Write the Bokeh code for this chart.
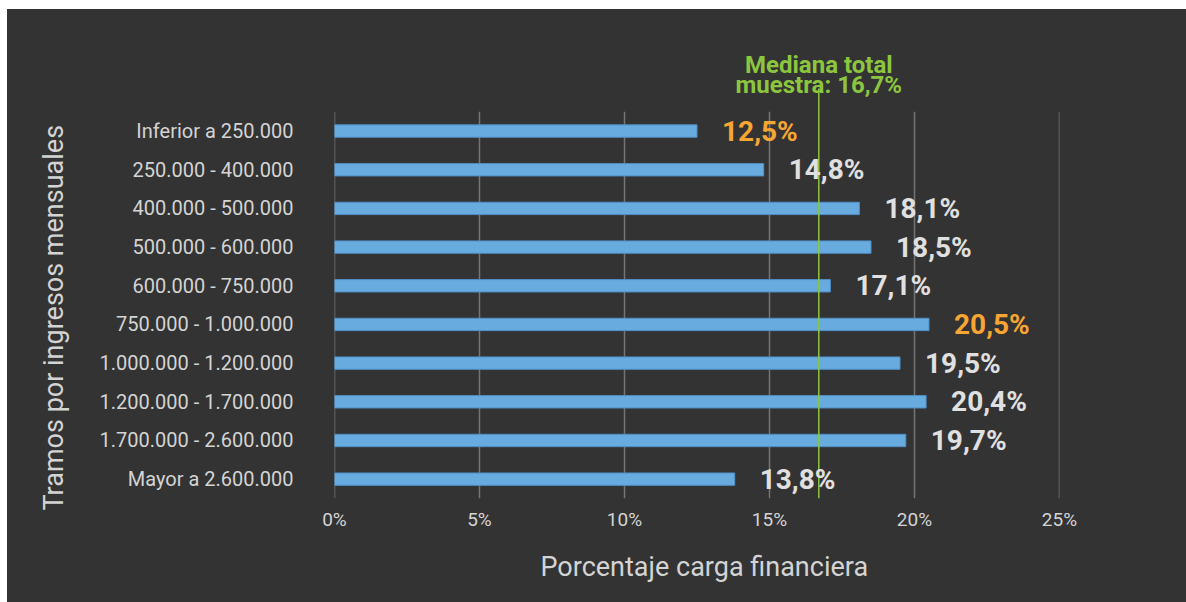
from bokeh.plotting import figure
from bokeh.models import ColumnDataSource, FixedTicker, PrintfTickFormatter, Title
from bokeh.core.properties import value
from bokeh.embed import file_html
from bokeh.resources import INLINE

categories = ["Inferior a 250.000", "250.000 - 400.000", "400.000 - 500.000",
              "500.000 - 600.000", "600.000 - 750.000", "750.000 - 1.000.000",
              "1.000.000 - 1.200.000", "1.200.000 - 1.700.000",
              "1.700.000 - 2.600.000", "Mayor a 2.600.000"]
values = [12.5, 14.8, 18.1, 18.5, 17.1, 20.5, 19.5, 20.4, 19.7, 13.8]
highlight = [True, False, False, False, False, True, False, False, False, False]
x_ticks = [0, 5, 10, 15, 20, 25]
median_value = 16.7

BG = "#333333"
BAR = "#68abdf"
BAR_LINE = "#4f8fc6"
GRID = "#747474"
TXT = "#d4d4d4"
VAL = "#e0e0e0"
ORANGE = "#f7a533"
GREEN = "#8cc63f"
FONT = "Roboto"

n = len(categories)
ypos = [n - 1 - i for i in range(n)]

src = ColumnDataSource(dict(
    y=ypos,
    v=values,
    label=[("%.1f" % v).replace(".", ",") + "%" for v in values],
    color=[ORANGE if h else VAL for h in highlight],
))

p = figure(width=1179, height=593, output_backend="svg", toolbar_location=None,
           x_range=(0, 25), y_range=(-0.5, 11.6),
           min_border_left=327, min_border_right=127,
           min_border_top=21, min_border_bottom=104,
           background_fill_color=BG, border_fill_color=BG)
p.margin = (9, 0, 0, 7)
p.styles = {"background-color": BG}
p.outline_line_color = None
p.xgrid.visible = False
p.ygrid.visible = False

# vertical gridlines
p.segment(x0=x_ticks, y0=[-0.5] * len(x_ticks), x1=x_ticks, y1=[n - 0.5] * len(x_ticks),
          line_color=GRID, line_width=1.5)

p.hbar(y="y", right="v", left=0, height=0.32, source=src,
       fill_color=BAR, line_color=BAR_LINE, line_width=1)

# median line
p.segment(x0=[median_value], y0=[-0.5], x1=[median_value], y1=[10.1],
          line_color=GREEN, line_width=1.5)

p.text(x=[median_value], y=[10.7], text=["Mediana total"],
       text_font=value(FONT), text_font_style="bold", text_font_size="24px",
       text_color=GREEN, text_align="center", text_baseline="alphabetic")
p.text(x=[median_value], y=[10.18],
       text=["muestra: " + ("%.1f" % median_value).replace(".", ",") + "%"],
       text_font=value(FONT), text_font_style="bold", text_font_size="24px",
       text_color=GREEN, text_align="center", text_baseline="alphabetic")

p.text(x="v", y="y", text="label", source=src, x_offset=25,
       text_font=value(FONT), text_font_style="bold", text_font_size="28px",
       text_color="color", text_align="left", text_baseline="middle")

# axes
p.xaxis.ticker = FixedTicker(ticks=x_ticks)
p.xaxis.formatter = PrintfTickFormatter(format="%d%%")
p.xaxis.axis_line_color = None
p.xaxis.major_tick_line_color = None
p.xaxis.minor_tick_line_color = None
p.xaxis.major_label_standoff = 3
p.xaxis.major_label_text_font = FONT
p.xaxis.major_label_text_font_size = "19px"
p.xaxis.major_label_text_color = TXT

p.yaxis.ticker = FixedTicker(ticks=ypos)
p.yaxis.major_label_overrides = {y: c for y, c in zip(ypos, categories)}
p.yaxis.axis_line_color = None
p.yaxis.major_tick_line_color = None
p.yaxis.minor_tick_line_color = None
p.yaxis.major_label_standoff = 35
p.yaxis.major_label_text_font = FONT
p.yaxis.major_label_text_font_size = "20px"
p.yaxis.major_label_text_color = TXT

# axis titles
p.add_layout(Title(text="Tramos por ingresos mensuales", align="left", offset=-12,
                   vertical_align="middle", standoff=52,
                   text_font=FONT, text_font_size="27px", text_font_style="normal",
                   text_color=TXT), "left")
p.add_layout(Title(text="Porcentaje carga financiera", align="left", offset=206,
                   vertical_align="middle", standoff=32,
                   text_font=FONT, text_font_size="27px", text_font_style="normal",
                   text_color=TXT), "below")

open("out.html", "w").write(file_html(p, INLINE))
